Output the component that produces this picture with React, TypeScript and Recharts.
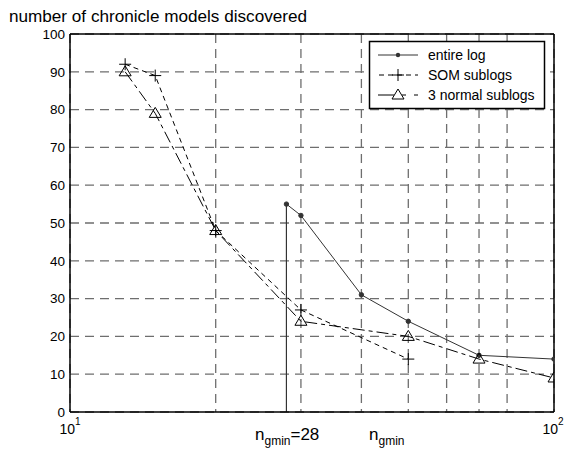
import { LineChart, Line, XAxis, YAxis, CartesianGrid, ReferenceLine } from 'recharts';

const xTicks = [10, 20, 30, 40, 50, 60, 70, 80, 90, 100];
const yTicks = [0, 10, 20, 30, 40, 50, 60, 70, 80, 90, 100];

const entireX = [28, 30, 40, 50, 70, 100];
const entireY = [55, 52, 31, 24, 15, 14];

const somX = [13, 15, 20, 30, 50];
const somY = [92, 89, 48, 27, 14];

const normalX = [13, 15, 20, 30, 50, 70, 100];
const normalY = [90, 79, 48, 24, 20, 14, 9];

// vertical marker at n_gmin = 28
const thresholdX = [28, 28];
const thresholdY = [0, 55];

const toPoints = (xs: number[], ys: number[]) => xs.map((x, i) => ({ x, y: ys[i] }));

const FONT = '"Liberation Sans", Arial, sans-serif';
const LINE = '#333';
const SOM_DASH = '5 4';
const NORMAL_DASH = '12 4 4 4';

function plusDot(props: any) {
  const { cx, cy, index } = props;
  return (
    <path
      key={`plus-${index}`}
      d={`M${cx - 6},${cy}H${cx + 6}M${cx},${cy - 6}V${cy + 6}`}
      stroke="#000"
      strokeWidth={1}
      fill="none"
    />
  );
}

function triangleDot(props: any) {
  const { cx, cy, index } = props;
  return (
    <path
      key={`tri-${index}`}
      d={`M${cx},${cy - 6}L${cx - 6},${cy + 4}L${cx + 6},${cy + 4}Z`}
      stroke="#000"
      strokeWidth={1}
      fill="#fff"
      fillOpacity={0}
    />
  );
}

function XTick(props: any) {
  const { x, y, payload } = props;
  if (payload.value !== 10 && payload.value !== 100) return <g />;
  const exp = payload.value === 10 ? '1' : '2';
  return (
    <text x={x} y={y + 14} textAnchor="middle" fontSize={14} fontFamily={FONT} fill="#000">
      <tspan>10</tspan>
      <tspan fontSize={10} dy={-9}>{exp}</tspan>
    </text>
  );
}

export default function App() {
  return (
    <div style={{ position: 'absolute', left: 0, top: 0, width: 565, height: 450, background: '#fff' }}>
      <LineChart width={565} height={450} margin={{ top: 34, right: 11, bottom: 18, left: 40 }}>
        <CartesianGrid stroke="#6e6e6e" strokeWidth={1.3} strokeDasharray="9 6" />
        <XAxis
          type="number"
          dataKey="x"
          scale="log"
          domain={[10, 100]}
          ticks={xTicks}
          allowDataOverflow
          height={20}
          tickLine={false}
          tick={<XTick />}
          axisLine={{ stroke: '#000', strokeWidth: 1.5 }}
        />
        <YAxis
          type="number"
          domain={[0, 100]}
          ticks={yTicks}
          width={30}
          tickLine={false}
          tickSize={0}
          tickMargin={5}
          axisLine={{ stroke: '#000', strokeWidth: 1.5 }}
          tick={{ fontSize: 13.5, fontFamily: FONT, fill: '#000' }}
        />
        <ReferenceLine y={100} stroke="#000" strokeWidth={1.5} />
        <ReferenceLine x={100} stroke="#000" strokeWidth={1.5} />
        <Line
          data={toPoints(thresholdX, thresholdY)}
          dataKey="y"
          stroke={LINE}
          strokeWidth={1.2}
          dot={false}
          isAnimationActive={false}
          legendType="none"
        />
        <Line
          data={toPoints(entireX, entireY)}
          dataKey="y"
          name="entire log"
          stroke={LINE}
          strokeWidth={1}
          dot={{ r: 2.2, fill: LINE, stroke: LINE }}
          isAnimationActive={false}
        />
        <Line
          data={toPoints(somX, somY)}
          dataKey="y"
          name="SOM sublogs"
          stroke="#000"
          strokeWidth={1}
          strokeDasharray={SOM_DASH}
          dot={plusDot}
          isAnimationActive={false}
        />
        <Line
          data={toPoints(normalX, normalY)}
          dataKey="y"
          name="3 normal sublogs"
          stroke="#000"
          strokeWidth={1}
          strokeDasharray={NORMAL_DASH}
          dot={triangleDot}
          isAnimationActive={false}
        />
      </LineChart>
      <svg
        width={565}
        height={450}
        style={{ position: 'absolute', left: 0, top: 0, pointerEvents: 'none' }}
        fontFamily={FONT}
      >
        <text x={9} y={22} fontSize={16} textLength={298} lengthAdjust="spacingAndGlyphs" fill="#000">
          number of chronicle models discovered
        </text>
        <text x={255} y={440} fontSize={17} fill="#000">
          n<tspan fontSize={12} dy={5}>gmin</tspan>
          <tspan fontSize={17} dy={-5}>=28</tspan>
        </text>
        <text x={369} y={440} fontSize={17} fill="#000">
          n<tspan fontSize={12} dy={5}>gmin</tspan>
        </text>
        <g>
          <rect x={369.5} y={41.5} width={175} height={67} fill="#fff" stroke="#000" strokeWidth={1.5} />
          <line x1={378} x2={418} y1={55} y2={55} stroke={LINE} strokeWidth={1} />
          <circle cx={398} cy={55} r={2.2} fill={LINE} />
          <text x={428} y={60} fontSize={14} fill="#000">entire log</text>
          <line x1={378} x2={418} y1={75} y2={75} stroke="#000" strokeWidth={1} strokeDasharray={SOM_DASH} strokeDashoffset={-1} />
          <path d="M392,75H404M398,69V81" stroke="#000" strokeWidth={1} />
          <text x={428} y={80} fontSize={14} fill="#000">SOM sublogs</text>
          <line x1={378} x2={418} y1={95} y2={95} stroke="#000" strokeWidth={1} strokeDasharray="16 8 4 8" />
          <path d="M398,89L392,99L404,99Z" stroke="#000" strokeWidth={1} fill="#fff" />
          <text x={428} y={100} fontSize={14} fill="#000">3 normal sublogs</text>
        </g>
      </svg>
    </div>
  );
}
